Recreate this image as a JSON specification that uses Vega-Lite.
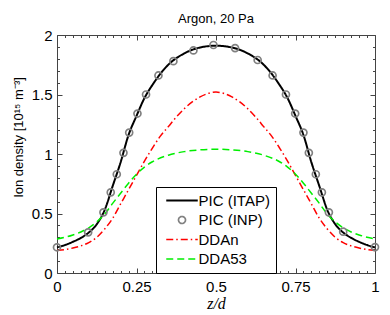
{
  "$schema": "https://vega.github.io/schema/vega-lite/v6.json",
  "width": 318,
  "height": 238,
  "autosize": "none",
  "padding": {"left": 57, "top": 35, "right": 15, "bottom": 42},
  "title": {"text": "Argon, 20 Pa", "font": "Liberation Sans", "fontSize": 13, "fontWeight": "normal", "color": "black", "anchor": "middle", "baseline": "alphabetic", "offset": 11, "dy": 19},
  "data": {"values": [
    {"series": "PIC (ITAP)", "z": 0, "n": 0.215},
    {"series": "PIC (ITAP)", "z": 0.025, "n": 0.235},
    {"series": "PIC (ITAP)", "z": 0.05, "n": 0.262},
    {"series": "PIC (ITAP)", "z": 0.075, "n": 0.295},
    {"series": "PIC (ITAP)", "z": 0.1, "n": 0.34},
    {"series": "PIC (ITAP)", "z": 0.125, "n": 0.41},
    {"series": "PIC (ITAP)", "z": 0.15, "n": 0.53},
    {"series": "PIC (ITAP)", "z": 0.175, "n": 0.73},
    {"series": "PIC (ITAP)", "z": 0.2, "n": 0.93},
    {"series": "PIC (ITAP)", "z": 0.225, "n": 1.16},
    {"series": "PIC (ITAP)", "z": 0.25, "n": 1.32},
    {"series": "PIC (ITAP)", "z": 0.275, "n": 1.47},
    {"series": "PIC (ITAP)", "z": 0.3, "n": 1.58},
    {"series": "PIC (ITAP)", "z": 0.35, "n": 1.75},
    {"series": "PIC (ITAP)", "z": 0.4, "n": 1.845},
    {"series": "PIC (ITAP)", "z": 0.45, "n": 1.895},
    {"series": "PIC (ITAP)", "z": 0.5, "n": 1.91},
    {"series": "PIC (ITAP)", "z": 0.55, "n": 1.895},
    {"series": "PIC (ITAP)", "z": 0.6, "n": 1.845},
    {"series": "PIC (ITAP)", "z": 0.65, "n": 1.75},
    {"series": "PIC (ITAP)", "z": 0.7, "n": 1.58},
    {"series": "PIC (ITAP)", "z": 0.725, "n": 1.47},
    {"series": "PIC (ITAP)", "z": 0.75, "n": 1.32},
    {"series": "PIC (ITAP)", "z": 0.775, "n": 1.16},
    {"series": "PIC (ITAP)", "z": 0.8, "n": 0.93},
    {"series": "PIC (ITAP)", "z": 0.825, "n": 0.73},
    {"series": "PIC (ITAP)", "z": 0.85, "n": 0.53},
    {"series": "PIC (ITAP)", "z": 0.875, "n": 0.41},
    {"series": "PIC (ITAP)", "z": 0.9, "n": 0.34},
    {"series": "PIC (ITAP)", "z": 0.925, "n": 0.295},
    {"series": "PIC (ITAP)", "z": 0.95, "n": 0.262},
    {"series": "PIC (ITAP)", "z": 0.975, "n": 0.235},
    {"series": "PIC (ITAP)", "z": 1, "n": 0.215},

    {"series": "DDAn", "z": 0, "n": 0.19},
    {"series": "DDAn", "z": 0.025, "n": 0.197},
    {"series": "DDAn", "z": 0.05, "n": 0.21},
    {"series": "DDAn", "z": 0.075, "n": 0.228},
    {"series": "DDAn", "z": 0.1, "n": 0.255},
    {"series": "DDAn", "z": 0.125, "n": 0.3},
    {"series": "DDAn", "z": 0.15, "n": 0.37},
    {"series": "DDAn", "z": 0.175, "n": 0.46},
    {"series": "DDAn", "z": 0.2, "n": 0.58},
    {"series": "DDAn", "z": 0.225, "n": 0.7},
    {"series": "DDAn", "z": 0.25, "n": 0.82},
    {"series": "DDAn", "z": 0.275, "n": 0.94},
    {"series": "DDAn", "z": 0.3, "n": 1.05},
    {"series": "DDAn", "z": 0.325, "n": 1.15},
    {"series": "DDAn", "z": 0.35, "n": 1.23},
    {"series": "DDAn", "z": 0.375, "n": 1.31},
    {"series": "DDAn", "z": 0.4, "n": 1.38},
    {"series": "DDAn", "z": 0.45, "n": 1.48},
    {"series": "DDAn", "z": 0.5, "n": 1.52},
    {"series": "DDAn", "z": 0.55, "n": 1.48},
    {"series": "DDAn", "z": 0.6, "n": 1.38},
    {"series": "DDAn", "z": 0.625, "n": 1.31},
    {"series": "DDAn", "z": 0.65, "n": 1.23},
    {"series": "DDAn", "z": 0.675, "n": 1.15},
    {"series": "DDAn", "z": 0.7, "n": 1.05},
    {"series": "DDAn", "z": 0.725, "n": 0.94},
    {"series": "DDAn", "z": 0.75, "n": 0.82},
    {"series": "DDAn", "z": 0.775, "n": 0.7},
    {"series": "DDAn", "z": 0.8, "n": 0.58},
    {"series": "DDAn", "z": 0.825, "n": 0.46},
    {"series": "DDAn", "z": 0.85, "n": 0.37},
    {"series": "DDAn", "z": 0.875, "n": 0.3},
    {"series": "DDAn", "z": 0.9, "n": 0.255},
    {"series": "DDAn", "z": 0.925, "n": 0.228},
    {"series": "DDAn", "z": 0.95, "n": 0.21},
    {"series": "DDAn", "z": 0.975, "n": 0.197},
    {"series": "DDAn", "z": 1, "n": 0.19},

    {"series": "DDA53", "z": 0, "n": 0.286},
    {"series": "DDA53", "z": 0.025, "n": 0.3},
    {"series": "DDA53", "z": 0.05, "n": 0.32},
    {"series": "DDA53", "z": 0.075, "n": 0.345},
    {"series": "DDA53", "z": 0.1, "n": 0.38},
    {"series": "DDA53", "z": 0.125, "n": 0.43},
    {"series": "DDA53", "z": 0.15, "n": 0.495},
    {"series": "DDA53", "z": 0.175, "n": 0.585},
    {"series": "DDA53", "z": 0.2, "n": 0.67},
    {"series": "DDA53", "z": 0.225, "n": 0.755},
    {"series": "DDA53", "z": 0.25, "n": 0.83},
    {"series": "DDA53", "z": 0.275, "n": 0.89},
    {"series": "DDA53", "z": 0.3, "n": 0.935},
    {"series": "DDA53", "z": 0.35, "n": 0.99},
    {"series": "DDA53", "z": 0.4, "n": 1.02},
    {"series": "DDA53", "z": 0.45, "n": 1.035},
    {"series": "DDA53", "z": 0.5, "n": 1.04},
    {"series": "DDA53", "z": 0.55, "n": 1.035},
    {"series": "DDA53", "z": 0.6, "n": 1.02},
    {"series": "DDA53", "z": 0.65, "n": 0.99},
    {"series": "DDA53", "z": 0.7, "n": 0.935},
    {"series": "DDA53", "z": 0.725, "n": 0.89},
    {"series": "DDA53", "z": 0.75, "n": 0.83},
    {"series": "DDA53", "z": 0.775, "n": 0.755},
    {"series": "DDA53", "z": 0.8, "n": 0.67},
    {"series": "DDA53", "z": 0.825, "n": 0.585},
    {"series": "DDA53", "z": 0.85, "n": 0.495},
    {"series": "DDA53", "z": 0.875, "n": 0.43},
    {"series": "DDA53", "z": 0.9, "n": 0.38},
    {"series": "DDA53", "z": 0.925, "n": 0.345},
    {"series": "DDA53", "z": 0.95, "n": 0.32},
    {"series": "DDA53", "z": 0.975, "n": 0.3},
    {"series": "DDA53", "z": 1, "n": 0.286},

    {"series": "PIC (INP)", "z": 0, "n": 0.216},
    {"series": "PIC (INP)", "z": 0.098, "n": 0.342},
    {"series": "PIC (INP)", "z": 0.146, "n": 0.51},
    {"series": "PIC (INP)", "z": 0.169, "n": 0.678},
    {"series": "PIC (INP)", "z": 0.188, "n": 0.83},
    {"series": "PIC (INP)", "z": 0.209, "n": 1.01},
    {"series": "PIC (INP)", "z": 0.227, "n": 1.18},
    {"series": "PIC (INP)", "z": 0.253, "n": 1.34},
    {"series": "PIC (INP)", "z": 0.28, "n": 1.5},
    {"series": "PIC (INP)", "z": 0.319, "n": 1.66},
    {"series": "PIC (INP)", "z": 0.366, "n": 1.78},
    {"series": "PIC (INP)", "z": 0.429, "n": 1.87},
    {"series": "PIC (INP)", "z": 0.492, "n": 1.916},
    {"series": "PIC (INP)", "z": 0.56, "n": 1.89},
    {"series": "PIC (INP)", "z": 0.631, "n": 1.79},
    {"series": "PIC (INP)", "z": 0.678, "n": 1.66},
    {"series": "PIC (INP)", "z": 0.72, "n": 1.5},
    {"series": "PIC (INP)", "z": 0.749, "n": 1.34},
    {"series": "PIC (INP)", "z": 0.775, "n": 1.18},
    {"series": "PIC (INP)", "z": 0.792, "n": 1.01},
    {"series": "PIC (INP)", "z": 0.814, "n": 0.83},
    {"series": "PIC (INP)", "z": 0.833, "n": 0.678},
    {"series": "PIC (INP)", "z": 0.855, "n": 0.51},
    {"series": "PIC (INP)", "z": 0.9, "n": 0.347},
    {"series": "PIC (INP)", "z": 1, "n": 0.218}
  ]},
  "layer": [
    {
      "transform": [{"filter": "datum.series !== 'PIC (INP)'"}],
      "mark": {"type": "line", "interpolate": "monotone"},
      "encoding": {
        "x": {"field": "z", "type": "quantitative", "scale": {"domain": [0, 1], "nice": false, "zero": false},
          "axis": {"orient": "bottom", "values": [0, 0.25, 0.5, 0.75, 1], "labelExpr": "'' + datum.value", "tickSize": -5, "labelPadding": 11, "labelFlush": false, "labelOverlap": false,
            "title": "z/d", "titleFont": "Liberation Serif", "titleFontStyle": "italic", "titleFontWeight": "normal", "titleFontSize": 16, "titleBaseline": "alphabetic", "titleY": 35, "titleX": 159, "titleAlign": "center"}},
        "y": {"field": "n", "type": "quantitative", "scale": {"domain": [0, 2], "nice": false, "zero": false},
          "axis": {"orient": "left", "values": [0, 0.5, 1, 1.5, 2], "labelExpr": "'' + datum.value", "tickSize": -5, "labelPadding": 10, "labelFlush": false, "labelOverlap": false,
            "title": "Ion density [10¹⁵ m⁻³]", "titleFontSize": 13, "titleFontWeight": "normal", "titleAngle": -90, "titleX": -39, "titleY": 102, "titleAlign": "center", "titleBaseline": "middle"}},
        "color": {"field": "series", "type": "nominal", "scale": {"domain": ["PIC (ITAP)", "PIC (INP)", "DDAn", "DDA53"], "range": ["#000000", "#808080", "#ff0000", "#00ee00"]}, "legend": {"title": null}},
        "strokeDash": {"field": "series", "type": "nominal", "scale": {"domain": ["PIC (ITAP)", "PIC (INP)", "DDAn", "DDA53"], "range": [[1, 0], [1, 0], [7, 3, 1.5, 3], [7, 4]]}, "legend": {"title": null}},
        "strokeWidth": {"field": "series", "type": "nominal", "scale": {"type": "ordinal", "domain": ["PIC (ITAP)", "PIC (INP)", "DDAn", "DDA53"], "range": [2, 1.7, 1.5, 1.5]}, "legend": {"title": null}}
      }
    },
    {
      "transform": [{"filter": "datum.series === 'PIC (INP)'"}],
      "mark": {"type": "point", "filled": false, "opacity": 1, "size": 49},
      "encoding": {
        "x": {"field": "z", "type": "quantitative", "scale": {"domain": [0, 1], "nice": false, "zero": false},
          "axis": {"orient": "top", "values": [0, 0.25, 0.5, 0.75, 1], "labels": false, "tickSize": -5, "title": null}},
        "y": {"field": "n", "type": "quantitative", "scale": {"domain": [0, 2], "nice": false, "zero": false},
          "axis": {"orient": "right", "values": [0, 0.5, 1, 1.5, 2], "labels": false, "tickSize": -5, "title": null}},
        "color": {"field": "series", "type": "nominal", "scale": {"domain": ["PIC (ITAP)", "PIC (INP)", "DDAn", "DDA53"], "range": ["#000000", "#808080", "#ff0000", "#00ee00"]}, "legend": {"title": null}},
        "shape": {"field": "series", "type": "nominal", "scale": {"domain": ["PIC (ITAP)", "PIC (INP)", "DDAn", "DDA53"], "range": ["M-4.5,0H4.5", "circle", "M-4.5,0H4.5", "M-4.5,0H4.5"]}, "legend": {"title": null}},
        "strokeWidth": {"field": "series", "type": "nominal", "scale": {"type": "ordinal", "domain": ["PIC (ITAP)", "PIC (INP)", "DDAn", "DDA53"], "range": [2, 1.7, 1.5, 1.5]}, "legend": {"title": null}}
      }
    },
    {
      "mark": {"type": "point", "opacity": 0},
      "encoding": {
        "x": {"field": "z", "type": "quantitative", "scale": {"domain": [0, 1], "nice": false, "zero": false},
          "axis": {"orient": "bottom", "values": [0.025, 0.05, 0.075, 0.1, 0.125, 0.15, 0.175, 0.2, 0.225, 0.275, 0.3, 0.325, 0.35, 0.375, 0.4, 0.425, 0.45, 0.475, 0.525, 0.55, 0.575, 0.6, 0.625, 0.65, 0.675, 0.7, 0.725, 0.775, 0.8, 0.825, 0.85, 0.875, 0.9, 0.925, 0.95, 0.975], "labels": false, "tickSize": -2.5, "title": null}},
        "y": {"field": "n", "type": "quantitative", "scale": {"domain": [0, 2], "nice": false, "zero": false},
          "axis": {"orient": "left", "values": [0.1, 0.2, 0.3, 0.4, 0.6, 0.7, 0.8, 0.9, 1.1, 1.2, 1.3, 1.4, 1.6, 1.7, 1.8, 1.9], "labels": false, "tickSize": -2.5, "title": null}}
      }
    },
    {
      "mark": {"type": "point", "opacity": 0},
      "encoding": {
        "x": {"field": "z", "type": "quantitative", "scale": {"domain": [0, 1], "nice": false, "zero": false},
          "axis": {"orient": "top", "values": [0.025, 0.05, 0.075, 0.1, 0.125, 0.15, 0.175, 0.2, 0.225, 0.275, 0.3, 0.325, 0.35, 0.375, 0.4, 0.425, 0.45, 0.475, 0.525, 0.55, 0.575, 0.6, 0.625, 0.65, 0.675, 0.7, 0.725, 0.775, 0.8, 0.825, 0.85, 0.875, 0.9, 0.925, 0.95, 0.975], "labels": false, "tickSize": -2.5, "title": null}},
        "y": {"field": "n", "type": "quantitative", "scale": {"domain": [0, 2], "nice": false, "zero": false},
          "axis": {"orient": "right", "values": [0.1, 0.2, 0.3, 0.4, 0.6, 0.7, 0.8, 0.9, 1.1, 1.2, 1.3, 1.4, 1.6, 1.7, 1.8, 1.9], "labels": false, "tickSize": -2.5, "title": null}}
      }
    }
  ],
  "resolve": {"axis": {"x": "independent", "y": "independent"}},
  "config": {
    "view": {"stroke": "#444444", "strokeWidth": 1},
    "axis": {"grid": false, "domain": false, "ticks": true, "tickColor": "#444444", "tickWidth": 1, "labelFont": "Liberation Sans", "labelFontSize": 15, "labelColor": "#000000", "titleFont": "Liberation Sans", "titleColor": "#000000"},
    "legend": {"orient": "none", "legendX": 99, "legendY": 152, "strokeColor": "#000000", "fillColor": "#ffffff", "padding": 6, "symbolSize": 49, "symbolOffset": 12.5, "labelFont": "Liberation Sans", "labelFontSize": 15, "labelColor": "#000000", "labelOffset": 9, "rowPadding": 3.5, "cornerRadius": 0}
  }
}
